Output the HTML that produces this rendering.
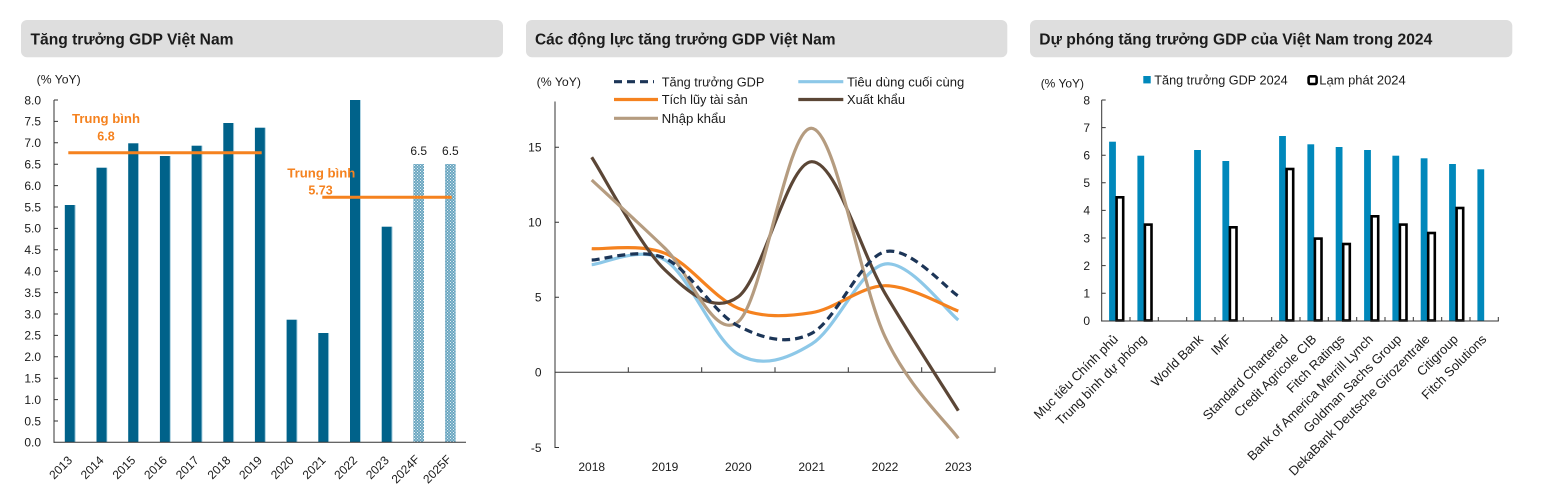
<!DOCTYPE html>
<html><head><meta charset="utf-8"><style>
html,body{margin:0;padding:0;background:#fff;}
svg{display:block;}
text{font-family:"Liberation Sans","Noto Sans CJK SC",sans-serif;fill:#1b1b1b;}
</style></head><body>
<svg width="1541" height="499" viewBox="0 0 1541 499" xmlns="http://www.w3.org/2000/svg">
<defs>
<pattern id="hatch" width="3" height="3" patternUnits="userSpaceOnUse">
<rect width="3" height="3" fill="#6aa6c0"/>
<rect x="0" y="0" width="1" height="1" fill="#e6f1f6"/>
<rect x="1.5" y="1.5" width="1" height="1" fill="#e6f1f6"/>
</pattern>
</defs>

<!-- Headers -->
<rect x="21" y="20" width="482" height="37.3" rx="6" fill="#dedede"/>
<text x="30.5" y="44.3" font-size="16" font-weight="bold" textLength="203" lengthAdjust="spacingAndGlyphs">Tăng trưởng GDP Việt Nam</text>
<rect x="526" y="20" width="481.3" height="37.3" rx="6" fill="#dedede"/>
<text x="535" y="44.3" font-size="16" font-weight="bold" textLength="300.5" lengthAdjust="spacingAndGlyphs">Các động lực tăng trưởng GDP Việt Nam</text>
<rect x="1030" y="20" width="482.3" height="37.3" rx="6" fill="#dedede"/>
<text x="1039.3" y="44.3" font-size="16" font-weight="bold" textLength="393" lengthAdjust="spacingAndGlyphs">Dự phóng tăng trưởng GDP của Việt Nam trong 2024</text>

<!-- ================= CHART 1 ================= -->
<text x="36.7" y="83.5" font-size="12" textLength="44" lengthAdjust="spacingAndGlyphs">(% YoY)</text>
<g font-size="12" text-anchor="end">
<text x="41" y="104.3">8.0</text>
<text x="41" y="125.7">7.5</text>
<text x="41" y="147.1">7.0</text>
<text x="41" y="168.5">6.5</text>
<text x="41" y="189.9">6.0</text>
<text x="41" y="211.3">5.5</text>
<text x="41" y="232.7">5.0</text>
<text x="41" y="254.1">4.5</text>
<text x="41" y="275.5">4.0</text>
<text x="41" y="296.9">3.5</text>
<text x="41" y="318.3">3.0</text>
<text x="41" y="339.7">2.5</text>
<text x="41" y="361.1">2.0</text>
<text x="41" y="382.5">1.5</text>
<text x="41" y="403.9">1.0</text>
<text x="41" y="425.3">0.5</text>
<text x="41" y="446.7">0.0</text>
</g>
<!-- bars -->
<g fill="#00628a">
<rect x="64.8" y="205" width="10" height="237.3"/>
<rect x="96.5" y="167.7" width="10" height="274.6"/>
<rect x="128.2" y="143.3" width="10" height="299"/>
<rect x="159.9" y="156" width="10" height="286.3"/>
<rect x="191.6" y="145.7" width="10" height="296.6"/>
<rect x="223.3" y="123" width="10" height="319.3"/>
<rect x="254.9" y="127.7" width="10" height="314.6"/>
<rect x="286.6" y="319.7" width="10" height="122.6"/>
<rect x="318.3" y="333" width="10" height="109.3"/>
<rect x="350" y="100" width="10" height="342.3"/>
<rect x="381.7" y="226.7" width="10" height="215.6"/>
</g>
<g fill="#9cc9dc">
<rect x="74.8" y="205" width="0.8" height="237.3"/>
<rect x="106.5" y="167.7" width="0.8" height="274.6"/>
<rect x="138.2" y="143.3" width="0.8" height="299"/>
<rect x="169.9" y="156" width="0.8" height="286.3"/>
<rect x="201.6" y="145.7" width="0.8" height="296.6"/>
<rect x="233.3" y="123" width="0.8" height="319.3"/>
<rect x="264.9" y="127.7" width="0.8" height="314.6"/>
<rect x="296.6" y="319.7" width="0.8" height="122.6"/>
<rect x="328.3" y="333" width="0.8" height="109.3"/>
<rect x="360" y="100" width="0.8" height="342.3"/>
<rect x="391.7" y="226.7" width="0.8" height="215.6"/>
</g>
<rect x="413.4" y="164" width="10.6" height="278.3" fill="url(#hatch)"/>
<rect x="445.1" y="164" width="10.6" height="278.3" fill="url(#hatch)"/>
<g font-size="12" text-anchor="middle">
<text x="418.7" y="155">6.5</text>
<text x="450.4" y="155">6.5</text>
</g>
<!-- average lines -->
<line x1="68.3" y1="152.7" x2="261.7" y2="152.7" stroke="#f5821f" stroke-width="3"/>
<line x1="322.3" y1="197.3" x2="451.7" y2="197.3" stroke="#f5821f" stroke-width="3"/>
<g font-size="12.5" font-weight="bold" text-anchor="middle" style="fill:#f5821f">
<text x="106" y="123" textLength="68" lengthAdjust="spacingAndGlyphs" style="fill:#f5821f">Trung bình</text>
<text x="106" y="140.5" style="fill:#f5821f">6.8</text>
<text x="321.3" y="177.5" textLength="68" lengthAdjust="spacingAndGlyphs" style="fill:#f5821f">Trung bình</text>
<text x="320.5" y="194.5" style="fill:#f5821f">5.73</text>
</g>
<!-- axes -->
<g stroke="#333" stroke-width="1">
<line x1="54" y1="100" x2="54" y2="442.8"/>
<line x1="53.5" y1="442.3" x2="466" y2="442.3"/>
<path d="M54 100h4M54 121.4h4M54 142.8h4M54 164.2h4M54 185.6h4M54 207h4M54 228.4h4M54 249.8h4M54 271.2h4M54 292.6h4M54 314h4M54 335.4h4M54 356.8h4M54 378.2h4M54 399.6h4M54 421h4"/>
</g>
<g font-size="12" text-anchor="end">
<text transform="translate(73 461) rotate(-45)">2013</text>
<text transform="translate(104.5 461) rotate(-45)">2014</text>
<text transform="translate(136.2 461) rotate(-45)">2015</text>
<text transform="translate(167.9 461) rotate(-45)">2016</text>
<text transform="translate(199.6 461) rotate(-45)">2017</text>
<text transform="translate(231.3 461) rotate(-45)">2018</text>
<text transform="translate(262.9 461) rotate(-45)">2019</text>
<text transform="translate(294.6 461) rotate(-45)">2020</text>
<text transform="translate(326.3 461) rotate(-45)">2021</text>
<text transform="translate(358 461) rotate(-45)">2022</text>
<text transform="translate(389.7 461) rotate(-45)">2023</text>
<text transform="translate(420.4 460) rotate(-45)">2024F</text>
<text transform="translate(452.1 460) rotate(-45)">2025F</text>
</g>

<!-- ================= CHART 2 ================= -->
<text x="536.7" y="86" font-size="12" textLength="44.3" lengthAdjust="spacingAndGlyphs">(% YoY)</text>
<!-- legend -->
<line x1="614" y1="81.7" x2="654" y2="81.7" stroke="#1c3557" stroke-width="3.2" stroke-dasharray="8,5"/>
<text x="661.7" y="86.3" font-size="13" textLength="102.7" lengthAdjust="spacingAndGlyphs">Tăng trưởng GDP</text>
<line x1="798.3" y1="81.7" x2="843.3" y2="81.7" stroke="#8dc8e8" stroke-width="3.2"/>
<text x="847" y="86.3" font-size="13" textLength="117.3" lengthAdjust="spacingAndGlyphs">Tiêu dùng cuối cùng</text>
<line x1="614" y1="99.5" x2="658" y2="99.5" stroke="#f5821f" stroke-width="3.2"/>
<text x="661.7" y="104" font-size="13" textLength="86" lengthAdjust="spacingAndGlyphs">Tích lũy tài sản</text>
<line x1="798.3" y1="99.5" x2="843.3" y2="99.5" stroke="#5b4636" stroke-width="3.2"/>
<text x="847" y="104" font-size="13" textLength="58" lengthAdjust="spacingAndGlyphs">Xuất khẩu</text>
<line x1="614" y1="118.3" x2="658" y2="118.3" stroke="#b59c80" stroke-width="3.2"/>
<text x="661.7" y="123" font-size="13" textLength="64" lengthAdjust="spacingAndGlyphs">Nhập khẩu</text>
<!-- axes -->
<g stroke="#333" stroke-width="1">
<line x1="555" y1="101.5" x2="555" y2="448"/>
<line x1="554.5" y1="372.3" x2="995.5" y2="372.3"/>
<path d="M555 147.3h4M555 222.3h4M555 297.3h4M555 447.5h4"/>
<path d="M628.3 372.3v-5M701.7 372.3v-5M775 372.3v-5M848.3 372.3v-5M921.7 372.3v-5M995 372.3v-5"/>
</g>
<g font-size="12" text-anchor="end">
<text x="541.5" y="151.5">15</text>
<text x="541.5" y="226.5">10</text>
<text x="541.5" y="301.5">5</text>
<text x="541.5" y="376.5">0</text>
<text x="541.5" y="451.8">-5</text>
</g>
<g font-size="12" text-anchor="middle">
<text x="591.7" y="471">2018</text>
<text x="665" y="471">2019</text>
<text x="738.3" y="471">2020</text>
<text x="811.7" y="471">2021</text>
<text x="885" y="471">2022</text>
<text x="958.3" y="471">2023</text>
</g>
<!-- series -->
<g fill="none" stroke-width="3.2" stroke-linejoin="round">
<path stroke="#8dc8e8" d="M591.7,264.7 C603.9,263.9 640.6,245.1 665,260 C689.4,274.9 713.9,340.3 738.3,354.3 C762.7,368.3 787.3,359.05 811.7,344 C836.1,328.95 860.6,268 885,264 C909.4,260 946.1,310.7 958.3,320"/>
<path stroke="#f5821f" d="M591.7,248.7 C603.9,249.5 640.6,243.4 665,253.3 C689.4,263.2 713.9,298.4 738.3,308.3 C762.7,318.2 787.3,316.5 811.7,312.7 C836.1,308.9 860.6,286 885,285.7 C909.4,285.4 946.1,306.8 958.3,311"/>
<path stroke="#5b4636" d="M591.7,157.3 C603.9,176.1 640.6,246.8 665,270 C689.4,293.2 713.9,314.75 738.3,296.7 C762.7,278.65 787.3,162.3 811.7,161.7 C836.1,161.1 860.6,251.8 885,293.3 C909.4,334.8 946.1,391.1 958.3,410.7"/>
<path stroke="#b59c80" d="M591.7,180 C603.9,191.4 640.6,224.7 665,248.3 C689.4,271.9 713.9,341.7 738.3,321.7 C762.7,301.7 787.3,125.8 811.7,128.3 C836.1,130.8 860.6,285 885,336.7 C909.4,388.4 946.1,421.4 958.3,438.3"/>
<path stroke="#1c3557" stroke-dasharray="8,5" d="M591.7,260 C603.9,259.7 640.6,247.3 665,258.3 C689.4,269.3 713.9,313.5 738.3,326 C762.7,338.5 787.3,345.7 811.7,333.3 C836.1,320.9 860.6,257.9 885,251.7 C909.4,245.5 946.1,288.6 958.3,296"/>
</g>

<!-- ================= CHART 3 ================= -->
<text x="1040.7" y="87.5" font-size="12" textLength="43.3" lengthAdjust="spacingAndGlyphs">(% YoY)</text>
<rect x="1143.3" y="76" width="7.4" height="7.4" fill="#0088bb"/>
<text x="1154.3" y="84.5" font-size="12.5" textLength="133.4" lengthAdjust="spacingAndGlyphs">Tăng trưởng GDP 2024</text>
<rect x="1308.6" y="76.3" width="8" height="7.7" rx="1.5" fill="#fff" stroke="#000" stroke-width="2.6"/>
<text x="1319.3" y="84.5" font-size="12.5" textLength="86.4" lengthAdjust="spacingAndGlyphs">Lạm phát 2024</text>
<g font-size="12" text-anchor="end">
<text x="1090" y="104.3">8</text>
<text x="1090" y="131.9">7</text>
<text x="1090" y="159.5">6</text>
<text x="1090" y="187.1">5</text>
<text x="1090" y="214.7">4</text>
<text x="1090" y="242.3">3</text>
<text x="1090" y="269.9">2</text>
<text x="1090" y="297.5">1</text>
<text x="1090" y="325.2">0</text>
</g>
<!-- GDP bars -->
<g fill="#0088bb">
<rect x="1109.1" y="141.7" width="6.8" height="179.3"/>
<rect x="1137.4" y="155.7" width="6.8" height="165.3"/>
<rect x="1194.1" y="150" width="6.8" height="171"/>
<rect x="1222.4" y="161" width="6.8" height="160"/>
<rect x="1279.1" y="136" width="6.8" height="185"/>
<rect x="1307.4" y="144.3" width="6.8" height="176.7"/>
<rect x="1335.7" y="147" width="6.8" height="174"/>
<rect x="1364.1" y="150" width="6.8" height="171"/>
<rect x="1392.4" y="155.7" width="6.8" height="165.3"/>
<rect x="1420.7" y="158.3" width="6.8" height="162.7"/>
<rect x="1449.1" y="164" width="6.8" height="157"/>
<rect x="1477.4" y="169.3" width="6.8" height="151.7"/>
</g>
<!-- Inflation bars -->
<g fill="#fff" stroke="#000" stroke-width="2.6">
<rect x="1116.6" y="197.3" width="6.6" height="123.2"/>
<rect x="1144.9" y="224.6" width="6.6" height="95.9"/>
<rect x="1229.9" y="227.3" width="6.6" height="93.2"/>
<rect x="1286.6" y="169" width="6.6" height="151.5"/>
<rect x="1314.9" y="238.6" width="6.6" height="81.9"/>
<rect x="1343.2" y="244" width="6.6" height="76.5"/>
<rect x="1371.6" y="216.3" width="6.6" height="104.2"/>
<rect x="1399.9" y="224.6" width="6.6" height="95.9"/>
<rect x="1428.2" y="233" width="6.6" height="87.5"/>
<rect x="1456.6" y="208" width="6.6" height="112.5"/>
</g>
<g stroke="#333" stroke-width="1">
<line x1="1101.7" y1="100" x2="1101.7" y2="321.5"/>
<line x1="1101.2" y1="321" x2="1498.8" y2="321"/>
<path d="M1101.7 100h4M1101.7 127.6h4M1101.7 155.2h4M1101.7 182.8h4M1101.7 210.4h4M1101.7 238h4M1101.7 265.6h4M1101.7 293.2h4"/>
<path d="M1130 321v-4M1158.3 321v-4M1186.7 321v-4M1215 321v-4M1243.3 321v-4M1271.7 321v-4M1300 321v-4M1328.3 321v-4M1356.7 321v-4M1385 321v-4M1413.3 321v-4M1441.7 321v-4M1470 321v-4M1498.3 321v-4"/>
</g>
<g font-size="13" text-anchor="end">
<text transform="translate(1118.9 340) rotate(-45)">Mục tiêu Chính phủ</text>
<text transform="translate(1147.2 340) rotate(-45)">Trung bình dự phóng</text>
<text transform="translate(1203.9 340) rotate(-45)">World Bank</text>
<text transform="translate(1232.2 340) rotate(-45)">IMF</text>
<text transform="translate(1288.9 340) rotate(-45)">Standard Chartered</text>
<text transform="translate(1317.2 340) rotate(-45)">Credit Agricole CIB</text>
<text transform="translate(1345.5 340) rotate(-45)">Fitch Ratings</text>
<text transform="translate(1373.9 340) rotate(-45)">Bank of America Merrill Lynch</text>
<text transform="translate(1402.2 340) rotate(-45)">Goldman Sachs Group</text>
<text transform="translate(1430.5 340) rotate(-45)">DekaBank Deutsche Girozentrale</text>
<text transform="translate(1458.9 340) rotate(-45)">Citigroup</text>
<text transform="translate(1487.2 340) rotate(-45)">Fitch Solutions</text>
</g>
</svg>
</body></html>
